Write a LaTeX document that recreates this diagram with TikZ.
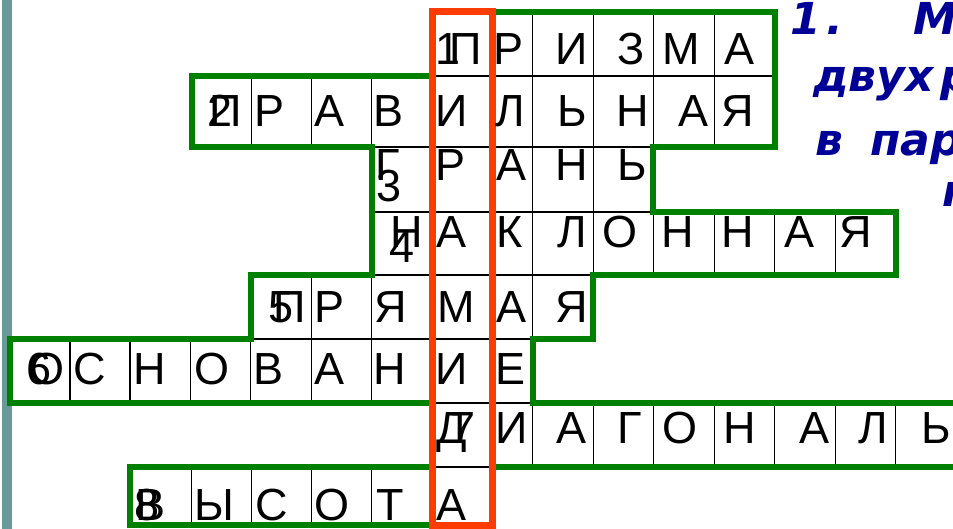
\documentclass[tikz,border=0pt]{standalone}
\usepackage{fontspec}
\setmainfont{Liberation Sans}
\newfontfamily\bluefont{DejaVu Sans}
\definecolor{cwgreen}{RGB}{0,128,0}
\definecolor{cwred}{RGB}{255,60,0}
\definecolor{clueblue}{RGB}{0,0,150}
\definecolor{barcol}{RGB}{104,154,154}
\begin{document}
\begin{tikzpicture}[x=1pt,y=-1pt,
  let/.style={anchor=base,inner sep=0pt,font=\fontsize{45}{54}\selectfont},
  gridline/.style={black,line width=1.3pt},
  outline/.style={draw=cwgreen,line width=6pt,line join=miter},
  answer/.style={draw=cwred,line width=7pt},
  clue/.style={anchor=base west,inner sep=0pt,text=clueblue,font=\bluefont\bfseries\itshape\fontsize{44}{52}\selectfont}]
\useasboundingbox (0,0) rectangle (953,529);
\clip (0,0) rectangle (953,529);
\fill[white] (0,0) rectangle (953,529);
\fill[barcol] (1.5,0) rectangle (11.5,529);
% thin grid lines
\foreach \x in {532.7,593.2,653.7,714.2} \draw[gridline] (\x,12) -- (\x,76);
\foreach \x in {251.7,311.7,371.7,532.7,593.2,653.7,714.2} \draw[gridline] (\x,76) -- (\x,147);
\foreach \x in {532.7,593.2} \draw[gridline] (\x,147) -- (\x,212);
\foreach \x in {532.7,593.2,653.7,714.2,774.7,835.2} \draw[gridline] (\x,212) -- (\x,275);
\foreach \x in {311.7,371.7,532.7} \draw[gridline] (\x,275) -- (\x,339);
\foreach \x in {70,130,190.7,250.7,311.7,371.7} \draw[gridline] (\x,339) -- (\x,403);
\foreach \x in {532.7,593.2,653.7,714.2,774.7,835.2,895.7} \draw[gridline] (\x,403) -- (\x,467);
\foreach \x in {191.2,251.2,311.7,371.7} \draw[gridline] (\x,467) -- (\x,525);
\draw[gridline] (432,76) -- (774.7,76);
\draw[gridline] (371.7,147) -- (653.7,147);
\draw[gridline] (371.7,212) -- (653.7,212);
\draw[gridline] (371.7,275) -- (593,275);
\draw[gridline] (251.7,339) -- (532.7,339);
\draw[gridline] (432,403) -- (532.7,403);
\draw[gridline] (432,467) -- (492,467);
% green outline
\draw[outline] (432,12) -- (774.7,12) -- (774.7,147) -- (653.2,147) -- (653.2,212) -- (895.7,212)
  -- (895.7,275.5) -- (593,275.5) -- (593,339) -- (532.5,339) -- (532.5,403) -- (965,403)
  -- (965,467) -- (492,467) -- (492,525) -- (130,525) -- (130,467) -- (432,467) -- (432,403)
  -- (9.5,403) -- (9.5,339) -- (251,339) -- (251,275) -- (371.7,275) -- (371.7,147)
  -- (191.7,147) -- (191.7,76) -- (432,76) -- cycle;
% answer column
\draw[answer] (432,12) rectangle (492,525);
% numbers
\node[let] (n1) at (448,65) {1};
\node[let] (n2) at (220,127) {2};
\node[let] (n3) at (389,202) {3};
\node[let] (n4) at (402,263) {4};
\node[let] (n5) at (281,323) {5};
\node[let] (n6) at (39,384) {6};
\node[let] (n7) at (463,443) {7};
\node[let] (n8) at (147,520) {8};
% letters
\foreach \x/\l [count=\i] in {466/П,509/Р,572/И,631/З,681.5/М,739/А}
  \node[let] (ra\i) at (\x,65) {\l};
\foreach \x/\l [count=\i] in {226/П,270/Р,330/А,389/В,452/И,510/Л,572/Ь,633/Н,693/А,738/Я}
  \node[let] (rb\i) at (\x,127) {\l};
\foreach \x/\l [count=\i] in {388/Г,451/Р,512/А,572/Н,632/Ь}
  \node[let] (rc\i) at (\x,181) {\l};
\foreach \x/\l [count=\i] in {407/Н,452/А,510/К,572/Л,620/О,678/Н,738/Н,799/А,856/Я}
  \node[let] (rd\i) at (\x,248) {\l};
\foreach \x/\l [count=\i] in {290/П,330/Р,391/Я,456/М,512/А,572/Я}
  \node[let] (re\i) at (\x,323) {\l};
\foreach \x/\l [count=\i] in {47/О,90/С,150/Н,212/О,269/В,330/А,390/Н,452/И,511/Е}
  \node[let] (rf\i) at (\x,384) {\l};
\foreach \x/\l [count=\i] in {452/Д,512/И,572/А,630/Г,680/О,740/Н,814/А,873/Л,936/Ь}
  \node[let] (rg\i) at (\x,443) {\l};
\foreach \x/\l [count=\i] in {151/В,214/Ы,272/С,332/О,390/Т,452/А}
  \node[let] (rh\i) at (\x,520) {\l};
% clue text
\node[clue] (q1) at (790,35) {1\hspace{6pt}.};
\node[clue] (q2) at (913,35) {М};
\node[clue] (q3) at (813,92) {двух};
\node[clue] (q3b) at (940,92) {р};
\node[clue] (q4) at (815,156) {в\hspace{12pt} пара};
\node[clue] (q5) at (942,207) {п};
\end{tikzpicture}
\end{document}
